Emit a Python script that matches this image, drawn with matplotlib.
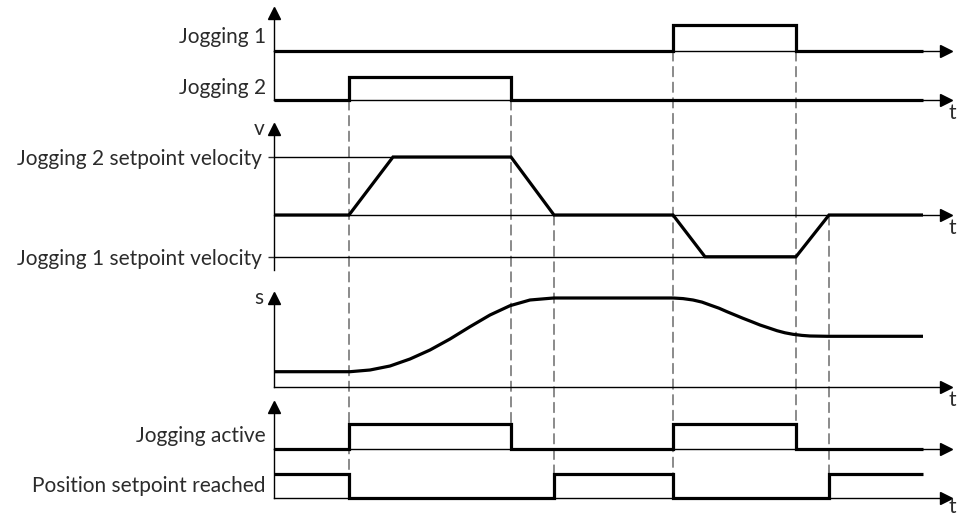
import matplotlib.pyplot as plt
from matplotlib.patches import ConnectionPatch

plt.rcParams['font.family'] = ['Lato', 'DejaVu Sans']

# time axis, arbitrary units from the vertical axis
t_end = 649
t_axis = 672

# digital signals (step form)
jog1_t = [0, 399, 522, t_end]
jog1 = [0, 1, 0, 0]
jog2_t = [0, 75, 237, t_end]
jog2 = [0, 1, 0, 0]
active_t = [0, 75, 237, 399, 522, t_end]
active = [0, 1, 0, 1, 0, 0]
reached_t = [0, 75, 280, 399, 555, t_end]
reached = [1, 0, 1, 0, 1, 1]

# velocity profile
v_jog2 = 1.0
v_jog1 = -0.72
v_t = [0, 75, 119, 237, 280, 399, 431, 522, 555, t_end]
v_val = [0, 0, v_jog2, v_jog2, 0, 0, v_jog1, v_jog1, 0, 0]

# position
s_t = [0, 76, 96, 116, 136, 156, 176, 196, 216, 236, 256, 276, 280,
       399, 409, 419, 428, 436, 445, 453, 461, 469, 478, 486, 495, 503, 511,
       519, 528, 536, 553, t_end]
s_val = [15.3, 15.3, 17, 21, 28, 37, 48, 60.3, 72, 81.3, 87, 88.7, 89,
         89, 88.4, 87, 84.9, 82, 78.8, 75.3, 72, 68.7, 65.2, 62, 59, 56.3, 54.2,
         52.7, 51.6, 51, 50.7, 50.7]

TXT = '#2b2b2b'
FS = 15
THICK = 2.3
THIN = 1.0

W, H = 961, 518
fig = plt.figure(figsize=(W / 100, H / 100), dpi=100)
X0, X1 = 274, 946


def lane(top, bottom, zero, unit, up_arrow=True, t_label=False, t_dy=-9):
    ax = fig.add_axes([X0 / W, 1 - bottom / H, (X1 - X0) / W, (bottom - top) / H])
    ax.patch.set_visible(False)
    ax.set_xlim(0, t_axis)
    ax.set_ylim(-(bottom - zero) / unit, (zero - top) / unit)
    for side in ['top', 'right']:
        ax.spines[side].set_visible(False)
    ax.spines['bottom'].set_position(('data', 0))
    ax.spines['left'].set_linewidth(THIN)
    ax.spines['bottom'].set_linewidth(THIN)
    ax.set_xticks([])
    ax.plot(1, 0, '>', color='black', ms=9, transform=ax.get_yaxis_transform(), clip_on=False)
    if up_arrow:
        ax.plot(0, 1, '^', color='black', ms=9, transform=ax.transAxes, clip_on=False)
    if t_label:
        ax.annotate('t', xy=(1, 0), xycoords=ax.get_yaxis_transform(), xytext=(4.3, t_dy),
                    textcoords='offset points', ha='center', va='center', fontsize=FS, color=TXT)
    ax.tick_params(axis='y', colors=TXT, labelsize=FS, length=0, pad=5.8)
    return ax


ax_j1 = lane(13, 51, 51, 26)
ax_j2 = lane(51, 100, 100, 23, up_arrow=False, t_label=True)
ax_v = lane(129, 270, 215, 58, t_label=True)
ax_s = lane(298, 387, 387, 1, t_label=True)
ax_ja = lane(407, 449, 449, 25)
ax_pr = lane(449, 498, 498, 24, up_arrow=False, t_label=True, t_dy=-6.5)

line_kw = dict(color='black', lw=THICK, zorder=3, clip_on=False,
               solid_joinstyle='miter', solid_capstyle='butt')

ax_j1.plot(jog1_t, jog1, drawstyle='steps-post', **line_kw)
ax_j2.plot(jog2_t, jog2, drawstyle='steps-post', **line_kw)
ax_ja.plot(active_t, active, drawstyle='steps-post', **line_kw)
ax_pr.plot(reached_t, reached, drawstyle='steps-post', **line_kw)
ax_v.plot(v_t, v_val, **line_kw)
ax_s.plot(s_t, s_val, **line_kw)

ax_j1.set_yticks([0.6], ['Jogging 1'])
ax_j2.set_yticks([0.6], ['Jogging 2'])
ax_ja.set_yticks([0.6], ['Jogging active'])
ax_pr.set_yticks([0.6], ['Position setpoint reached'])
ax_s.set_yticks([])

# setpoint velocity reference lines
for lvl in [v_jog2, v_jog1]:
    t_last = max(t for t, v in zip(v_t, v_val) if v == lvl)
    ax_v.hlines(lvl, 0, t_last, color='black', lw=THIN)
ax_v.set_yticks([v_jog2, v_jog1], ['Jogging 2 setpoint velocity', 'Jogging 1 setpoint velocity'])
ax_v.tick_params(axis='y', length=4.3, width=THIN, pad=4.5)

for ax, name in [(ax_v, 'v'), (ax_s, 's')]:
    ax.annotate(name, xy=(0, 1), xycoords='axes fraction', xytext=(-10.8, 0),
                textcoords='offset points', ha='center', va='center', fontsize=FS, color=TXT)

# dashed event markers
events = [
    (75, ax_j2, 0, ax_pr, 1),
    (237, ax_j2, 0, ax_ja, 1),
    (280, ax_v, 0, ax_pr, 1),
    (399, ax_j1, 0, ax_pr, 1),
    (522, ax_j1, 0, ax_ja, 1),
    (555, ax_v, 0, ax_pr, 1),
]
for t, a, ya, b, yb in events:
    con = ConnectionPatch(xyA=(t, ya), coordsA='data', axesA=a,
                          xyB=(t, yb), coordsB='data', axesB=b,
                          color='#4a4a4a', lw=0.9, linestyle=(0, (8, 4.5)), zorder=-1)
    fig.add_artist(con)

fig.savefig('out.png', dpi=100)
